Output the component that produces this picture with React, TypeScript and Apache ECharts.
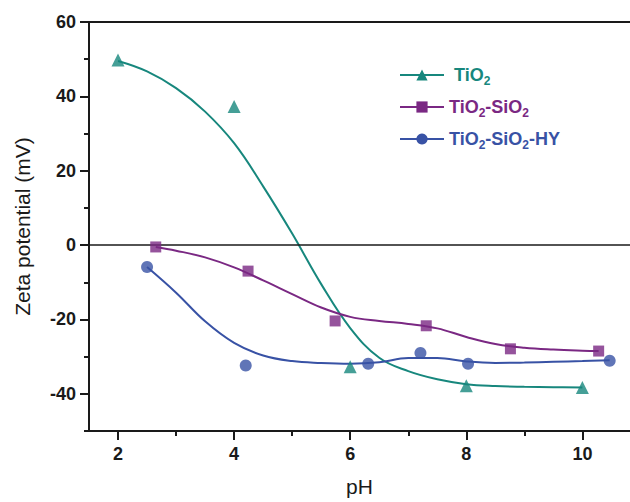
import React, { useEffect, useRef } from "react";
import * as echarts from "echarts";

const TEAL = "#17877d";
const PURPLE = "#7a2883";
const BLUE = "#3852a5";

// Measured points
const tio2X = [2, 4, 6, 8, 10];
const tio2Y = [49.8, 37.3, -32.7, -37.8, -38.3];
const tsX = [2.65, 4.24, 5.74, 7.31, 8.76, 10.28];
const tsY = [-0.5, -7.0, -20.4, -21.7, -27.9, -28.5];
const hyX = [2.5, 4.2, 6.31, 7.21, 8.03, 10.47];
const hyY = [-5.9, -32.4, -31.9, -29.0, -31.9, -31.1];

// Fitted curves
const tio2CurveX = [2, 2.5, 3, 3.5, 4, 4.5, 5, 5.5, 6, 6.5, 7, 7.5, 8, 8.5, 9, 9.5, 10];
const tio2CurveY = [49.5, 46.7, 42.2, 35.9, 27.4, 15.8, 3.1, -10.5, -22.3, -30.3, -33.9, -36.1, -37.4, -37.9, -38.1, -38.2, -38.3];
const tsCurveX = [2.65, 3, 3.5, 4, 4.5, 5, 5.5, 6, 6.5, 7, 7.5, 8, 8.5, 9, 9.5, 10, 10.28];
const tsCurveY = [-0.5, -1.5, -3.3, -6.0, -9.5, -13.2, -16.8, -19.3, -20.4, -21.2, -22.4, -24.7, -26.6, -27.6, -28.1, -28.4, -28.5];
const hyCurveX = [2.5, 3, 3.5, 4, 4.5, 5, 5.5, 6, 6.5, 7, 7.5, 8, 8.5, 9, 9.5, 10, 10.47];
const hyCurveY = [-5.9, -12.8, -20.5, -26.3, -29.7, -31.2, -31.7, -31.9, -31.5, -30.4, -30.4, -31.3, -31.7, -31.6, -31.4, -31.2, -31.0];

const xMajor = [2, 4, 6, 8, 10];
const xMinor = [3, 5, 7, 9];
const yMajor = [-40, -20, 0, 20, 40, 60];
const yMinor = [-50, -30, -10, 10, 30, 50];

const NAMES = ["TiO2", "TiO2-SiO2", "TiO2-SiO2-HY"];

const zip = (xs: number[], ys: number[]) => xs.map((x, i) => [x, ys[i]]);

const FONT = 'Arial, "Liberation Sans", Helvetica, sans-serif';

export default function App() {
  const ref = useRef<HTMLDivElement>(null);
  useEffect(() => {
    if (!ref.current) return;
    const chart = echarts.init(ref.current, null, { renderer: "svg" });
    const X_MIN = 1.5;
    const X_MAX = 10.82;
    const axisColor = "#1a1a1a";
    const main = (c: string) => ({ color: c, fontSize: 18, fontWeight: "bold", fontFamily: FONT, lineHeight: 24 });
    const sub = (c: string) => ({ color: c, fontSize: 12, fontWeight: "bold", fontFamily: FONT, lineHeight: 9, verticalAlign: "bottom" });
    const option: any = {
      animation: false,
      backgroundColor: "#ffffff",
      grid: { left: 89, top: 22, right: 0, bottom: 69 },
      legend: {
        orient: "vertical",
        left: 399,
        top: 66,
        padding: 0,
        itemWidth: 44,
        itemHeight: 14,
        itemGap: 11,
        selectedMode: false,
        data: NAMES,
        formatter: (name: string) => {
          if (name === "TiO2") return "{a0|TiO}{as|2}";
          if (name === "TiO2-SiO2") return "{b|TiO}{bs|2}{b|-SiO}{bs|2}";
          return "{c|TiO}{cs|2}{c|-SiO}{cs|2}{c|-HY}";
        },
        textStyle: {
          fontFamily: FONT,
          rich: {
            a0: { ...main(TEAL), padding: [0, 0, 0, 5] },
            as: sub(TEAL),
            b: main(PURPLE),
            bs: sub(PURPLE),
            c: main(BLUE),
            cs: sub(BLUE),
          },
        },
      },
      xAxis: [
        {
          type: "value",
          min: X_MIN,
          max: X_MAX,
          position: "bottom",
          name: "pH",
          nameLocation: "middle",
          nameGap: 45,
          nameTextStyle: { fontSize: 21, fontFamily: FONT, color: "#1a1a1a" },
          axisLine: { show: true, onZero: false, lineStyle: { color: axisColor, width: 2 } },
          axisTick: { show: true, customValues: xMajor, length: 9, lineStyle: { color: axisColor, width: 2 } },
          axisLabel: {
            customValues: xMajor,
            margin: 14,
            fontSize: 18,
            fontWeight: "bold",
            fontFamily: FONT,
            color: "#1a1a1a",
          },
          splitLine: { show: false },
        },
        {
          type: "value",
          min: X_MIN,
          max: X_MAX,
          position: "bottom",
          axisLine: { show: false, onZero: false },
          axisTick: { show: true, customValues: xMinor, length: 5, lineStyle: { color: axisColor, width: 2 } },
          axisLabel: { show: false },
          splitLine: { show: false },
        },
        {
          type: "value",
          min: X_MIN,
          max: X_MAX,
          position: "top",
          axisLine: { show: true, onZero: false, lineStyle: { color: axisColor, width: 2 } },
          axisTick: { show: false },
          axisLabel: { show: false },
          splitLine: { show: false },
        },
      ],
      yAxis: [
        {
          type: "value",
          min: -50,
          max: 60,
          position: "left",
          name: "Zeta potential (mV)",
          nameLocation: "middle",
          nameGap: 56,
          nameTextStyle: { fontSize: 21, fontFamily: FONT, color: "#1a1a1a" },
          axisLine: { show: true, onZero: false, lineStyle: { color: axisColor, width: 2 } },
          axisTick: { show: true, customValues: yMajor, length: 9, lineStyle: { color: axisColor, width: 2 } },
          axisLabel: {
            customValues: yMajor,
            margin: 13,
            fontSize: 18,
            fontWeight: "bold",
            fontFamily: FONT,
            color: "#1a1a1a",
          },
          splitLine: { show: false },
        },
        {
          type: "value",
          min: -50,
          max: 60,
          position: "left",
          axisLine: { show: false, onZero: false },
          axisTick: { show: true, customValues: yMinor, length: 5, lineStyle: { color: axisColor, width: 2 } },
          axisLabel: { show: false },
          splitLine: { show: false },
        },
      ],
      series: [
        {
          name: "TiO2",
          type: "line",
          data: zip(tio2CurveX, tio2CurveY),
          smooth: 0.4,
          symbol: "triangle",
          showSymbol: false,
          lineStyle: { color: TEAL, width: 2 },
          itemStyle: { color: TEAL },
          z: 3,
          markLine: {
            silent: true,
            symbol: ["none", "none"],
            label: { show: false },
            lineStyle: { color: "#1a1a1a", width: 1.5, type: "solid" },
            data: [{ yAxis: 0 }],
          },
        },
        {
          name: "TiO2-SiO2",
          type: "line",
          data: zip(tsCurveX, tsCurveY),
          smooth: 0.4,
          symbol: "rect",
          showSymbol: false,
          lineStyle: { color: PURPLE, width: 2 },
          itemStyle: { color: PURPLE },
          z: 3,
        },
        {
          name: "TiO2-SiO2-HY",
          type: "line",
          data: zip(hyCurveX, hyCurveY),
          smooth: 0.4,
          symbol: "circle",
          showSymbol: false,
          lineStyle: { color: BLUE, width: 2 },
          itemStyle: { color: BLUE },
          z: 3,
        },
        {
          name: "TiO2",
          type: "scatter",
          data: zip(tio2X, tio2Y),
          symbol: "triangle",
          symbolSize: 13,
          itemStyle: { color: TEAL },
          z: 5,
        },
        {
          name: "TiO2-SiO2",
          type: "scatter",
          data: zip(tsX, tsY),
          symbol: "rect",
          symbolSize: 11,
          itemStyle: { color: PURPLE },
          z: 5,
        },
        {
          name: "TiO2-SiO2-HY",
          type: "scatter",
          data: zip(hyX, hyY),
          symbol: "circle",
          symbolSize: 12,
          itemStyle: { color: BLUE },
          z: 5,
        },
      ],
    };
    chart.setOption(option);
    return () => chart.dispose();
  }, []);
  return <div ref={ref} style={{ width: 630, height: 502, position: "absolute", left: 0, top: 0 }} />;
}
